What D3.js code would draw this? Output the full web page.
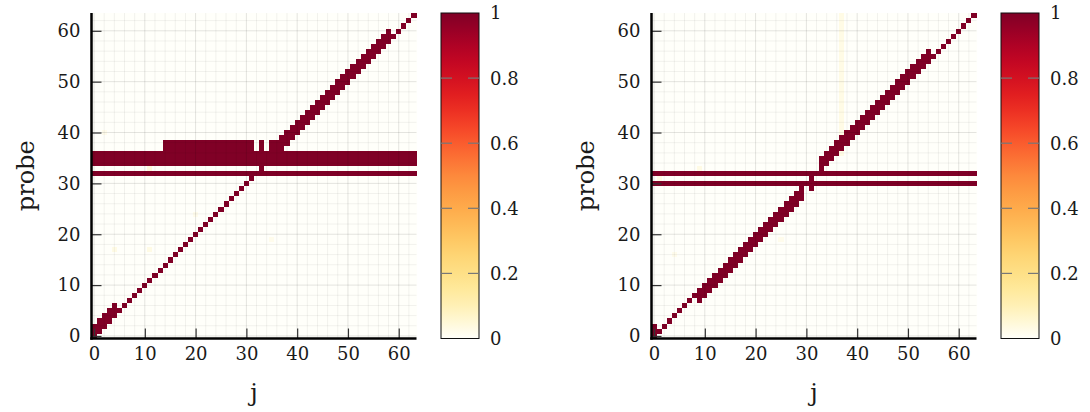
<!DOCTYPE html>
<html>
<head>
<meta charset="utf-8">
<script src="https://cdn.jsdelivr.net/npm/d3@7"></script>
<style>
  html, body { margin: 0; padding: 0; background: #fff; }
  svg { display: block; }
  text { font-family: "DejaVu Serif", "Liberation Serif", serif; fill: #1a1a1a; }
</style>
</head>
<body>
<svg id="chart" width="1090" height="412"></svg>
<script>
// ---------------- DATA ----------------
const jValues = d3.range(0, 64);          // x categories (j)
const probeValues = d3.range(0, 64);      // y categories (probe)
const axisTicks = [0, 10, 20, 30, 40, 50, 60];
const colorbarTicks = [0, 0.2, 0.4, 0.6, 0.8, 1];
const colorbarTickLabels = ["0", "0.2", "0.4", "0.6", "0.8", "1"];

// full-width horizontal bands of value 1: [probeFrom, probeTo]
const leftRows = [[32, 32], [34, 36]];
const rightRows = [[30, 30], [32, 32]];

// column runs of value 1: [j, probeFrom, probeTo]
const leftRuns = [
  [0,0,2],[1,1,3],[2,2,4],[3,3,5],[4,4,6],[5,5,5],[6,6,6],[7,7,7],[8,8,8],[9,9,9],
  [10,10,10],[11,11,11],[12,12,12],[13,13,13],[14,14,14],[15,15,15],[16,16,16],[17,17,17],
  [18,18,18],[19,19,19],[20,20,20],[21,21,21],[22,22,22],[23,23,23],[24,24,24],[25,25,25],
  [26,26,26],[27,27,27],[28,28,28],[29,29,29],[30,30,30],[31,31,31],
  [14,37,38],[15,37,38],[16,37,38],[17,37,38],[18,37,38],[19,37,38],[20,37,38],[21,37,38],
  [22,37,38],[23,37,38],[24,37,38],[25,37,38],[26,37,38],[27,37,38],[28,37,38],[29,37,38],
  [30,37,38],[31,37,38],[33,33,33],[33,37,38],[35,37,38],[36,37,38],
  [37,37,39],[38,38,40],[39,39,41],[40,40,42],[41,41,43],[42,42,44],[43,43,45],[44,44,46],
  [45,45,47],[46,46,48],[47,47,49],[48,48,50],[49,49,51],[50,50,52],[51,51,53],[52,52,54],
  [53,53,55],[54,54,56],[55,55,57],[56,56,58],[57,57,59],[58,58,60],
  [59,59,59],[60,60,60],[61,61,61],[62,62,62],[63,63,63]
];
const rightRuns = [
  [0,0,2],[1,1,1],[2,2,2],[3,3,3],[4,4,4],[5,5,5],[6,6,6],[7,7,7],[8,8,8],
  [9,7,9],[10,8,10],[11,9,11],[12,10,12],[13,11,13],[14,12,14],[15,13,15],[16,14,16],
  [17,15,17],[18,16,18],[19,17,19],[20,18,20],[21,19,21],[22,20,22],[23,21,23],[24,22,24],
  [25,23,25],[26,24,26],[27,25,27],[28,26,28],[29,27,29],
  [31,29,32],
  [33,33,35],[34,34,36],[35,35,37],[36,36,38],[37,37,39],[38,38,40],[39,39,41],[40,40,42],
  [41,41,43],[42,42,44],[43,43,45],[44,44,46],[45,45,47],[46,46,48],[47,47,49],[48,48,50],
  [49,49,51],[50,50,52],[51,51,53],[52,52,54],[53,53,55],[54,54,56],
  [55,55,55],[56,56,56],[57,57,57],[58,58,58],[59,59,59],[60,60,60],[61,61,61],[62,62,62],[63,63,63]
];

// faint low values: [j, probeFrom, probeTo, value]
const leftFaint = [[4,17,17,0.03],[11,17,17,0.03],[11,33,33,0.04],[35,19,19,0.02],[20,24,24,0.02],[2,40,40,0.02]];
const rightFaint = [[37,36,63,0.03],[1,30,31,0.03],[4,16,16,0.02],[9,33,33,0.03],[25,19,19,0.02]];

// ---------------- DRAWING ----------------
const colorStops = ["#fffffa","#ffeda0","#fed976","#feb24c","#fd8d3c","#fc4e2a","#e31a1c","#bd0026","#800026"];
const color = d3.scaleSequential(d3.interpolateRgbBasis(colorStops)).domain([0, 1]);

function buildMatrix(rows, runs, faint) {
  const m = probeValues.map(() => jValues.map(() => 0));
  faint.forEach(([j, a, b, v]) => { for (let p = a; p <= b; p++) m[p][j] = v; });
  rows.forEach(([a, b]) => { for (let p = a; p <= b; p++) jValues.forEach(j => m[p][j] = 1); });
  runs.forEach(([j, a, b]) => { for (let p = a; p <= b; p++) m[p][j] = 1; });
  const cells = [];
  probeValues.forEach(p => jValues.forEach(j => cells.push({ j, p, v: m[p][j] })));
  return cells;
}

const svg = d3.select("#chart");

function drawPanel(ox, rows, runs, faint) {
  const left = 91.5 + ox, right = 416.5 + ox, top = 13, bottom = 338.5;
  const x = d3.scaleLinear().domain([-0.5, 63.5]).range([left, right]);
  const y = d3.scaleLinear().domain([-0.5, 63.5]).range([bottom, top]);
  const g = svg.append("g");
  const cells = buildMatrix(rows, runs, faint);

  g.append("g").attr("shape-rendering", "crispEdges")
    .selectAll("rect").data(cells).join("rect")
    .attr("x", d => x(d.j - 0.5))
    .attr("y", d => y(d.p + 0.5))
    .attr("width", d => x(d.j + 0.5) - x(d.j - 0.5) + 0.3)
    .attr("height", d => y(d.p - 0.5) - y(d.p + 0.5) + 0.3)
    .attr("fill", d => color(d.v));

  // grid
  const gridVals = d3.range(0, 64, 2);
  const grid = g.append("g");
  grid.selectAll("line.v").data(gridVals).join("line")
    .attr("x1", d => x(d)).attr("x2", d => x(d))
    .attr("y1", top).attr("y2", bottom)
    .attr("stroke", "#000")
    .attr("stroke-opacity", d => d % 10 === 0 ? 0.11 : 0.055)
    .attr("stroke-width", 1);
  grid.selectAll("line.h").data(gridVals).join("line")
    .attr("y1", d => y(d)).attr("y2", d => y(d))
    .attr("x1", left).attr("x2", right)
    .attr("stroke", "#000")
    .attr("stroke-opacity", d => d % 10 === 0 ? 0.11 : 0.055)
    .attr("stroke-width", 1);

  // axes
  const xAxis = d3.axisBottom(x).tickValues(axisTicks).tickSize(-10).tickPadding(9).tickFormat(d3.format("d"));
  const yAxis = d3.axisLeft(y).tickValues(axisTicks).tickSize(-10).tickPadding(11).tickFormat(d3.format("d"));
  const gx = g.append("g").attr("transform", `translate(0,${bottom})`).call(xAxis);
  const gy = g.append("g").attr("transform", `translate(${left},0)`).call(yAxis);
  [gx, gy].forEach(a => {
    a.select(".domain").remove();
    a.selectAll(".tick line").attr("stroke", "#333").attr("stroke-width", 1.2);
    a.selectAll(".tick text").style("font-size", "18px").style("font-family", "DejaVu Serif").attr("fill", "#1a1a1a");
  });
  // spines
  g.append("line").attr("x1", left).attr("x2", left).attr("y1", top).attr("y2", bottom + 1.2)
    .attr("stroke", "#000").attr("stroke-width", 2.5);
  g.append("line").attr("x1", left - 1.2).attr("x2", right).attr("y1", bottom).attr("y2", bottom)
    .attr("stroke", "#000").attr("stroke-width", 2.5);

  // axis titles
  g.append("text").attr("x", (left + right) / 2).attr("y", 401)
    .attr("text-anchor", "middle").style("font-size", "24px").text("j");
  g.append("text").attr("transform", `translate(${ox + 34},${(top + bottom) / 2}) rotate(-90)`)
    .attr("text-anchor", "middle").style("font-size", "24px").text("probe");

  // colorbar
  const cbx = 441 + ox, cbw = 38;
  const cy = d3.scaleLinear().domain([0, 1]).range([bottom, top]);
  const gradId = "grad" + ox;
  const grad = svg.append("defs").append("linearGradient").attr("id", gradId)
    .attr("x1", 0).attr("x2", 0).attr("y1", 1).attr("y2", 0);
  d3.range(0, 1.0001, 0.05).forEach(t => grad.append("stop").attr("offset", t).attr("stop-color", color(t)));
  g.append("rect").attr("x", cbx).attr("y", top).attr("width", cbw).attr("height", bottom - top)
    .attr("fill", `url(#${gradId})`).attr("stroke", "#111").attr("stroke-width", 1);
  const inner = colorbarTicks.filter(t => t > 0 && t < 1);
  g.selectAll("line.cbl").data(inner).join("line")
    .attr("x1", cbx).attr("x2", cbx + 11).attr("y1", d => cy(d)).attr("y2", d => cy(d))
    .attr("stroke", "#777").attr("stroke-width", 1.2);
  g.selectAll("line.cbr").data(inner).join("line")
    .attr("x1", cbx + cbw - 11).attr("x2", cbx + cbw).attr("y1", d => cy(d)).attr("y2", d => cy(d))
    .attr("stroke", "#777").attr("stroke-width", 1.2);
  g.selectAll("text.cbt").data(colorbarTicks).join("text")
    .attr("x", cbx + cbw + 11).attr("y", d => cy(d)).attr("dy", "0.36em")
    .style("font-size", "18px").text((d, i) => colorbarTickLabels[i]);
}

drawPanel(0, leftRows, leftRuns, leftFaint);
drawPanel(560, rightRows, rightRuns, rightFaint);
</script>
</body>
</html>
